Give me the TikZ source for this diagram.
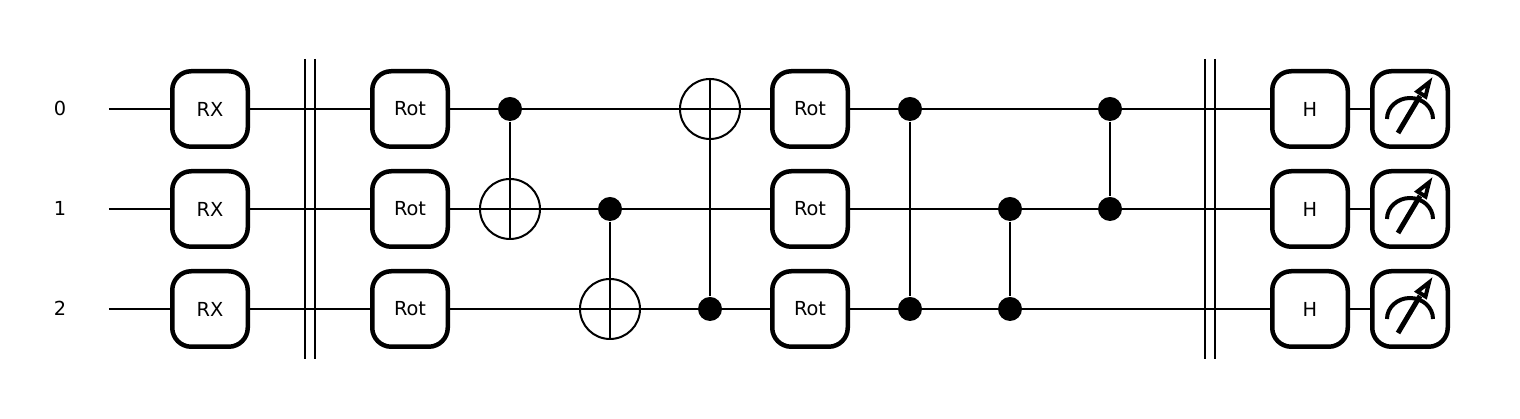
\documentclass[tikz,border=0pt]{standalone}
\usepackage{fontspec}
\setmainfont{DejaVu Sans}
\usepackage{tikz}
\usetikzlibrary{arrows.meta,positioning,backgrounds}

\begin{document}
\begin{tikzpicture}[
  box/.style={draw,fill=white,line width=0.045cm,rounded corners=0.19cm,align=center,
              minimum width=0.755cm,minimum height=0.755cm,inner sep=0pt,font=\fontsize{5.5pt}{6pt}\selectfont},
  wire/.style={line width=0.02cm},
  ctrl/.style={circle,fill=black,minimum size=0.24cm,inner sep=0pt},
  target/.style={circle,draw,line width=0.02cm,minimum size=0.6cm,inner sep=0pt},
  lbl/.style={font=\fontsize{5.5pt}{6pt}\selectfont,inner sep=0pt,anchor=center},
  >=Stealth]
\useasboundingbox (0,0) rectangle (15.2,4.19);
% wire labels, gates on each wire
\foreach \i/\y in {0/3.11,1/2.11,2/1.11}{
  \node[lbl] (l\i) at (0.6,\y) {\i};
}
\foreach \i/\y in {0/3.10,1/2.10,2/1.10}{
  \coordinate (s\i) at (1.09,\y);
  \node[box] (rx\i) at (2.1,\y) {RX};
  \node[box] (ra\i) at (4.1,\y) {Rot};
  \node[box] (rb\i) at (8.1,\y) {Rot};
  \node[box] (h\i) at (13.1,\y) {H};
  \node[box] (m\i) at (14.1,\y) {};
}
% cnot and cz
\node[ctrl] (c1) at (5.1,3.10) {};
\node[target] (t1) at (5.1,2.10) {};
\node[ctrl] (c2) at (6.1,2.10) {};
\node[target] (t2) at (6.1,1.10) {};
\node[ctrl] (c3) at (7.1,1.10) {};
\node[target] (t3) at (7.1,3.10) {};
\node[ctrl] (z1) at (9.1,3.10) {};
\node[ctrl] (z2) at (9.1,1.10) {};
\node[ctrl] (z3) at (10.1,2.10) {};
\node[ctrl] (z4) at (10.1,1.10) {};
\node[ctrl] (z5) at (11.1,3.10) {};
\node[ctrl] (z6) at (11.1,2.10) {};
\draw[wire] (c1) -- (t1.south);
\draw[wire] (c2) -- (t2.south);
\draw[wire] (c3) -- (t3.north);
\draw[wire] (z1) -- (z2);
\draw[wire] (z3) -- (z4);
\draw[wire] (z5) -- (z6);
% barriers
\foreach \x/\n in {3.05/a,3.15/b,12.05/c,12.15/d}{
  \coordinate (\n t) at (\x,3.60);
  \coordinate (\n b) at (\x,0.60);
  \draw[wire] (\n t) -- (\n b);
}
% meters
\foreach \i in {0,1,2}{
  \begin{scope}[shift={(m\i)},line width=0.04cm]
    \draw (-0.23,-0.10) arc[start angle=180,end angle=0,x radius=0.23,y radius=0.21];
    \draw[line width=0.05cm] (-0.12,-0.24) -- (0.1,0.13);
    \draw[fill=white,line join=miter] (0.19,0.265) -- (0.075,0.175) -- (0.155,0.125) -- cycle;
  \end{scope}
}
\begin{scope}[on background layer]
  \foreach \i in {0,1,2}
    \draw[wire] (s\i) -- (m\i);
\end{scope}
\end{tikzpicture}
\end{document}
